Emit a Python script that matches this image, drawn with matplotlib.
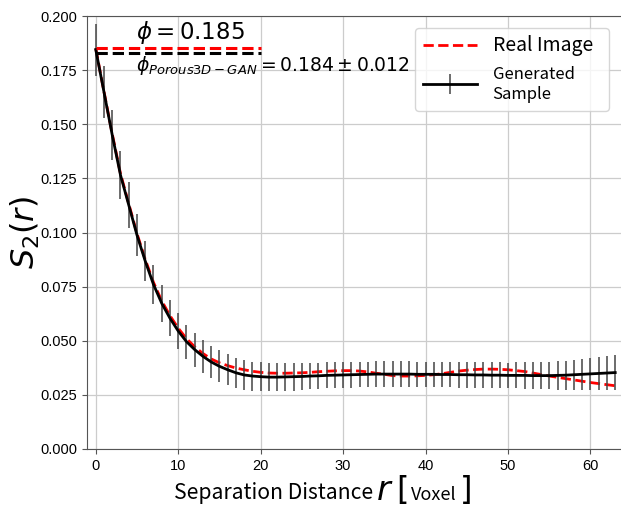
import numpy as np
import matplotlib
matplotlib.use("Agg")
import matplotlib.pyplot as plt
from matplotlib.offsetbox import TextArea, HPacker, AnchoredOffsetbox

plt.rcParams['font.family'] = ['Liberation Sans', 'DejaVu Sans']
lab_font = ['Noto Sans CJK SC', 'DejaVu Sans']

# separation distance in voxels
r = np.arange(64)

real_s2 = [0.1850, 0.1650, 0.1455, 0.1272, 0.1133, 0.0995, 0.0876, 0.0770,
           0.0684, 0.0616, 0.0558, 0.0510, 0.0472, 0.0441, 0.0416, 0.0398,
           0.0385, 0.0374, 0.0366, 0.0359, 0.0354, 0.0351, 0.0350, 0.0350,
           0.0351, 0.0352, 0.0354, 0.0357, 0.0359, 0.0361, 0.0362, 0.0362,
           0.0360, 0.0356, 0.0350, 0.0345, 0.0339, 0.0337, 0.0337, 0.0338,
           0.0340, 0.0343, 0.0348, 0.0354, 0.0360, 0.0364, 0.0367, 0.0369,
           0.0369, 0.0368, 0.0366, 0.0362, 0.0358, 0.0351, 0.0344, 0.0337,
           0.0331, 0.0325, 0.0319, 0.0313, 0.0307, 0.0302, 0.0297, 0.0292]

gen_s2 = [0.1845, 0.1648, 0.1450, 0.1265, 0.1127, 0.0988, 0.0868, 0.0760,
          0.0673, 0.0604, 0.0545, 0.0496, 0.0459, 0.0428, 0.0402, 0.0382,
          0.0366, 0.0352, 0.0342, 0.0337, 0.0334, 0.0332, 0.0332, 0.0333,
          0.0334, 0.0335, 0.0337, 0.0338, 0.0340, 0.0341, 0.0342, 0.0343,
          0.0344, 0.0345, 0.0346, 0.0346, 0.0346, 0.0346, 0.0346, 0.0345,
          0.0345, 0.0345, 0.0344, 0.0344, 0.0343, 0.0343, 0.0342, 0.0342,
          0.0341, 0.0341, 0.0340, 0.0340, 0.0340, 0.0339, 0.0339, 0.0339,
          0.0340, 0.0341, 0.0343, 0.0345, 0.0347, 0.0349, 0.0351, 0.0353]

gen_err = [0.0120, 0.0119, 0.0116, 0.0111, 0.0105, 0.0098, 0.0093, 0.0089,
           0.0086, 0.0083, 0.0081, 0.0079, 0.0078, 0.0076, 0.0075, 0.0073,
           0.0071, 0.0069, 0.0068, 0.0067, 0.0067, 0.0066, 0.0066, 0.0065,
           0.0064, 0.0063, 0.0062, 0.0061, 0.0060, 0.0060, 0.0059, 0.0059,
           0.0059, 0.0059, 0.0059, 0.0059, 0.0059, 0.0059, 0.0059, 0.0059,
           0.0059, 0.0059, 0.0059, 0.0059, 0.0059, 0.0059, 0.0059, 0.0059,
           0.0059, 0.0059, 0.0059, 0.0060, 0.0061, 0.0062, 0.0063, 0.0064,
           0.0066, 0.0067, 0.0069, 0.0071, 0.0073, 0.0075, 0.0077, 0.0079]

phi_real = 0.185
phi_gen = 0.184
phi_gen_std = 0.012

fig = plt.figure(figsize=(6.21, 5.05), dpi=100)
ax = fig.add_axes([0.1396, 0.1109, 1 - 0.1396, 0.8574])

ax.plot(r, real_s2, color='red', ls='--', lw=2, label='Real Image  ', zorder=3)
ax.errorbar(r, gen_s2, yerr=gen_err, color='black', lw=2, ecolor='#444444',
            elinewidth=1.1, capsize=0, label='Generated\nSample', zorder=4)

ax.hlines(phi_real, 0, 20, colors='red', linestyles='--', lw=2.2, zorder=5)
ax.hlines(phi_gen - 0.0009, 0, 20, colors='black', linestyles='--', lw=2.2, zorder=5)
ax.text(4.9, 0.1895, r'$\phi = %.3f$' % phi_real, fontsize=16.5)
ax.text(4.9, 0.1748, r'$\phi_{Porous3D-GAN} = %.3f \pm %.3f$' % (phi_gen, phi_gen_std),
        fontsize=13.5)

ax.set_xlim(-1.1, 63.7)
ax.set_ylim(0, 0.2)
ax.set_xticks(np.arange(0, 61, 10))
ax.set_yticks(np.arange(0, 0.2001, 0.025))
ax.yaxis.set_major_formatter(plt.FormatStrFormatter('%.3f'))
ax.tick_params(labelsize=10.5, color='#555555')
ax.grid(True, color='#cccccc', lw=0.9)
ax.set_axisbelow(True)
for s in ['left', 'bottom', 'top']:
    ax.spines[s].set_color('#555555')
ax.spines['right'].set_visible(False)

ax.set_ylabel(r'$S_2(r)$', fontsize=23)
ax.yaxis.set_label_coords(-0.084, 0.5)

leg = ax.legend(loc='upper right', prop={'family': lab_font, 'size': 14},
                handlelength=2.8, borderaxespad=0.6, framealpha=0.8)
leg.get_texts()[1].set_fontsize(12)

# x label with mixed sizes
parts = [
    TextArea("Separation Distance", textprops=dict(fontsize=15.2, family=lab_font)),
    TextArea("$r$", textprops=dict(fontsize=24)),
    TextArea("[", textprops=dict(fontsize=23, family='DejaVu Sans')),
    TextArea("Voxel", textprops=dict(fontsize=13, family=lab_font)),
    TextArea("]", textprops=dict(fontsize=23, family='DejaVu Sans')),
]
box = HPacker(children=parts, align='baseline', pad=0, sep=2)
anch = AnchoredOffsetbox(loc='center', child=box, pad=0, borderpad=0, frameon=False,
                         bbox_to_anchor=(323 / 621, 1 - 491 / 505),
                         bbox_transform=fig.transFigure)
fig.add_artist(anch)

fig.savefig('out.png', dpi=100)
